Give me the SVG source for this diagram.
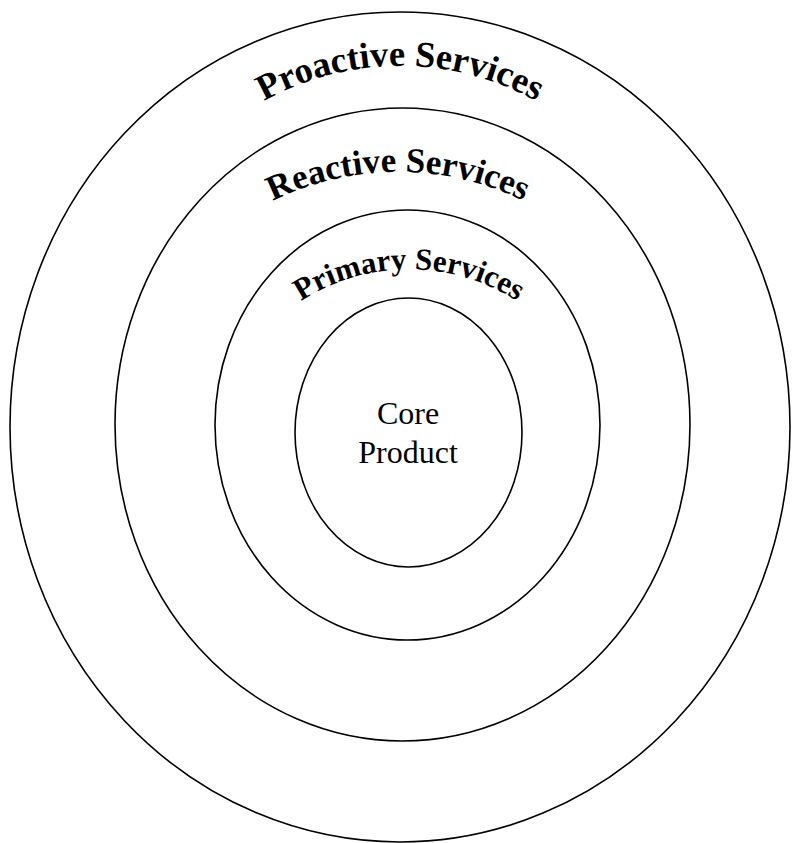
<svg xmlns="http://www.w3.org/2000/svg" xmlns:xlink="http://www.w3.org/1999/xlink" width="792" height="843" viewBox="0 0 792 843">
<style>
.ring{fill:none;stroke:#000;stroke-width:1.6}
.arc{font-family:"Liberation Serif","Times New Roman",serif;font-weight:bold;fill:#000}
.core{font-family:"Liberation Serif","Times New Roman",serif;font-size:32px;fill:#000;text-anchor:middle}
</style>
<defs>
<path id="pPro" d="M158,205 A280,280 0 0 1 642,205"/>
<path id="pRea" d="M148,320 A285,285 0 0 1 648,320"/>
<path id="pPri" d="M220,404 A200,200 0 0 1 598,404"/>
</defs>
<rect width="792" height="843" fill="#fff"/>
<g id="proactive">
<ellipse class="ring" cx="400" cy="427" rx="390" ry="415"/>
<text class="arc" font-size="36.5"><textPath xlink:href="#pPro" href="#pPro" startOffset="50%" text-anchor="middle">Proactive Services</textPath></text>
</g>
<g id="reactive">
<ellipse class="ring" cx="402.5" cy="424.5" rx="287.5" ry="316.5"/>
<text class="arc" font-size="35"><textPath xlink:href="#pRea" href="#pRea" startOffset="50%" text-anchor="middle">Reactive Services</textPath></text>
</g>
<g id="primary">
<ellipse class="ring" cx="407.5" cy="425" rx="192.5" ry="215"/>
<text class="arc" font-size="31"><textPath xlink:href="#pPri" href="#pPri" startOffset="50%" text-anchor="middle">Primary Services</textPath></text>
</g>
<g id="core">
<ellipse class="ring" cx="408.5" cy="432.5" rx="113.5" ry="134.5"/>
<text class="core" x="408" y="424">Core</text>
<text class="core" x="408" y="463">Product</text>
</g>
<g id="connectors"/>
</svg>
